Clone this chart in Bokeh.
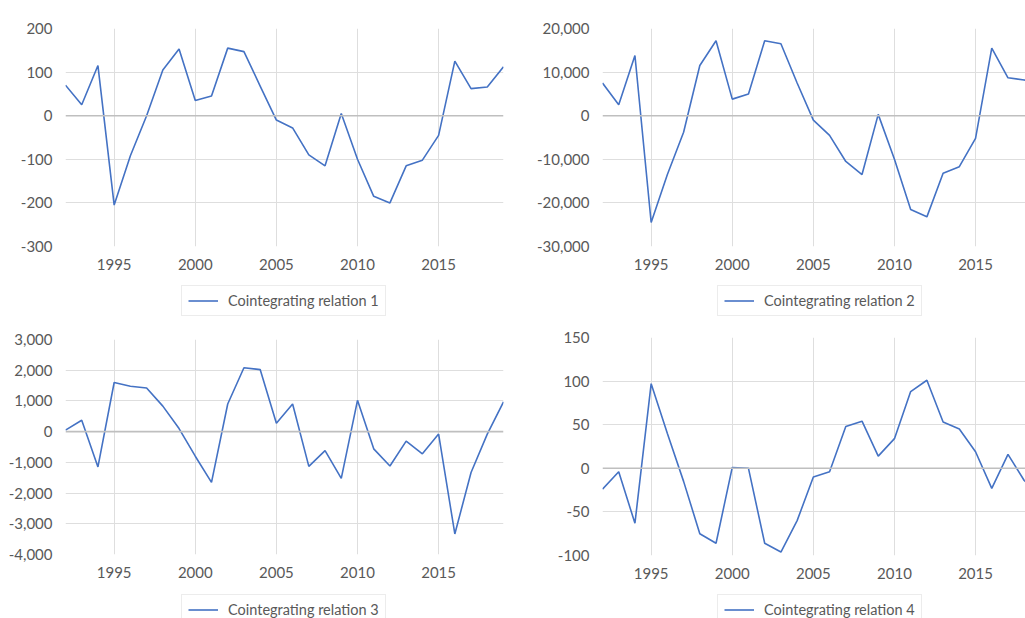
from bokeh.plotting import figure
from bokeh.layouts import column, row
from bokeh.models import Range1d, FixedTicker, NumeralTickFormatter, Span
from bokeh.embed import file_html
from bokeh.resources import INLINE

# Annual cointegrating relations, 1992-2019
years = list(range(1992, 2020))

relation_1 = [70, 25, 115, -205, -92, 0, 105, 153, 35, 45, 155, 147, 68, -10,
              -28, -90, -115, 5, -100, -185, -200, -115, -102, -45, 125, 62, 66, 112]
relation_2 = [7500, 2500, 13800, -24500, -13500, -3800, 11500, 17200, 3800, 5000,
              17200, 16500, 7500, -1000, -4500, -10500, -13500, 300, -10000, -21500,
              -23200, -13200, -11700, -5200, 15500, 8700, 8200, 7500]
relation_3 = [50, 370, -1150, 1600, 1480, 1420, 830, 100, -800, -1650, 900, 2080,
              2020, 270, 900, -1130, -620, -1520, 1020, -560, -1120, -310, -720, -80,
              -3330, -1330, -80, 970]
relation_4 = [-24, -4, -63, 97, 40, -15, -75, -86, 1, 0, -86, -96, -60, -10, -4, 48,
              54, 14, 34, 88, 101, 53, 45, 19, -23, 16, -14, -30]

labels = ["Cointegrating relation 1", "Cointegrating relation 2",
          "Cointegrating relation 3", "Cointegrating relation 4"]

x_ticks = [1995, 2000, 2005, 2010, 2015]
y_ticks_1 = [-300, -200, -100, 0, 100, 200]
y_ticks_2 = [-30000, -20000, -10000, 0, 10000, 20000]
y_ticks_3 = [-4000, -3000, -2000, -1000, 0, 1000, 2000, 3000]
y_ticks_4 = [-100, -50, 0, 50, 100, 150]

LINE = "#4472c4"
GRID = "#dedede"
ZERO = "#bfbfbf"
TEXT = "#595959"
FONT = "Lato"


def chart(values, y_ticks, x_end, w, h, left, right, top, bottom):
    p = figure(width=w, height=h, x_range=Range1d(1992, x_end),
               y_range=Range1d(y_ticks[0], y_ticks[-1]),
               output_backend="svg", toolbar_location=None,
               min_border_left=left, min_border_right=right,
               min_border_top=top, min_border_bottom=bottom)
    p.outline_line_color = None
    p.background_fill_color = "white"
    p.border_fill_color = "white"

    for ax in (p.xaxis[0], p.yaxis[0]):
        ax.axis_line_color = None
        ax.major_tick_line_color = None
        ax.minor_tick_line_color = None
        ax.major_label_text_font = FONT
        ax.major_label_text_font_size = "15px"
        ax.major_label_text_color = TEXT
    p.xaxis.ticker = FixedTicker(ticks=x_ticks)
    p.xaxis.major_label_standoff = 6
    p.yaxis.ticker = FixedTicker(ticks=y_ticks)
    p.yaxis.formatter = NumeralTickFormatter(format="0,0")
    p.yaxis.major_label_standoff = 7

    p.xgrid.ticker = FixedTicker(ticks=x_ticks)
    p.ygrid.ticker = FixedTicker(ticks=[t for t in y_ticks[1:-1] if t != 0])
    p.xgrid.grid_line_color = GRID
    p.ygrid.grid_line_color = GRID

    p.add_layout(Span(location=0, dimension="width", line_color=ZERO, line_width=1.6))
    p.line(years, values, line_color=LINE, line_width=1.6)
    return p


def legend_strip(label, w, h, box_xy):
    # a bare strip holding only the series legend; its sample line sits off-range
    p = figure(width=w, height=h, x_range=Range1d(0, 1), y_range=Range1d(0, 1),
               output_backend="svg", toolbar_location=None,
               min_border_left=0, min_border_right=0,
               min_border_top=0, min_border_bottom=0)
    p.axis.visible = False
    p.grid.visible = False
    p.outline_line_color = None
    p.border_fill_color = "white"
    p.line(x=[5, 6], y=[5, 6], line_color=LINE, line_width=1.6, legend_label=label)
    lg = p.legend[0]
    lg.location = box_xy
    lg.margin = 0
    lg.padding = 6
    lg.spacing = 0
    lg.glyph_width = 30
    lg.glyph_height = 13
    lg.label_height = 13
    lg.label_standoff = 10
    lg.label_text_font = FONT
    lg.label_text_font_size = "14.5px"
    lg.label_text_color = TEXT
    lg.border_line_color = "#d9d9d9"
    lg.border_line_width = 1
    lg.background_fill_color = "white"
    lg.background_fill_alpha = 1
    return p


p1 = chart(relation_1, y_ticks_1, 2019, 512, 280, 65, 9, 28, 34)
p2 = chart(relation_2, y_ticks_2, 2018.08, 513, 280, 90, 0, 28, 34)
p3 = chart(relation_3, y_ticks_3, 2019, 512, 270, 65, 9, 19, 36)
p4 = chart(relation_4, y_ticks_4, 2018.08, 513, 270, 90, 0, 17, 35)

l1 = legend_strip(labels[0], 512, 40, (116, 4))
l2 = legend_strip(labels[1], 513, 40, (115, 4))
l3 = legend_strip(labels[2], 512, 28, (116, -7))
l4 = legend_strip(labels[3], 513, 28, (115, -7))

layout = column(
    row(column(p1, l1, spacing=0), column(p2, l2, spacing=0), spacing=0),
    row(column(p3, l3, spacing=0), column(p4, l4, spacing=0), spacing=0),
    spacing=0,
)

open("out.html", "w").write(file_html(layout, INLINE))
